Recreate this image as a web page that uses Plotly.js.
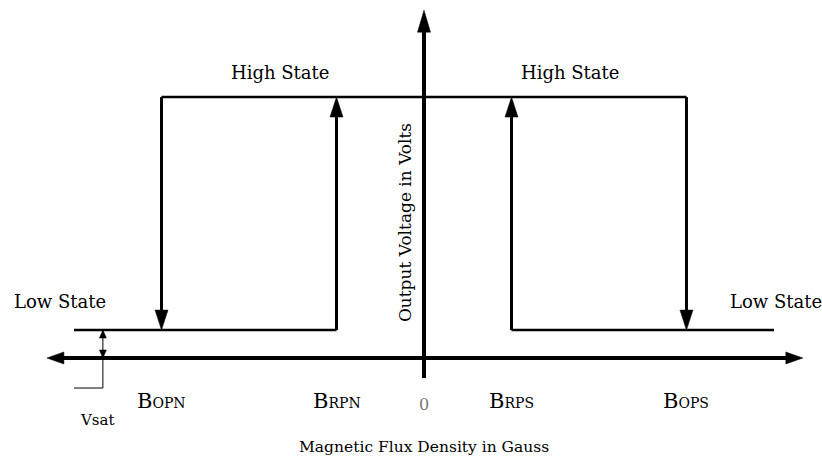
<!DOCTYPE html>
<html>
<head>
<meta charset="utf-8">
<script src="https://cdn.plot.ly/plotly-3.0.1.min.js"></script>
<style>html,body{margin:0;padding:0;background:#fff}#chart{width:822px;height:459px}</style>
</head>
<body>
<div id="chart"></div>
<script>
// ---- data ----
const thresholdNames = ["OPN", "RPN", "RPS", "OPS"];
const thresholdValues = [-3, -1, 1, 3];      // B_OPN, B_RPN, B_RPS, B_OPS (Gauss, schematic units)
const originLabel = "0";
const lowLevel = 0.107;                      // Vsat (Low State)
const highLevel = 1.0;                       // High State
const lowStateExtent = [-4.0, 4.0];
const vsatX = -3.67;

// ---- layout frame ----
const W = 822, H = 459;
const xr = [-4.846, 4.549];
const yr = [-0.387, 1.372];
const pxX = W / (xr[1] - xr[0]);
const pxY = H / (yr[1] - yr[0]);
const [bOPN, bRPN, bRPS, bOPS] = thresholdValues;

const traces = [];
function seg(x, y, w) {
  traces.push({x: x, y: y, mode: 'lines', type: 'scatter', hoverinfo: 'skip',
    line: {color: '#000', width: w}, showlegend: false});
}
function head(x, y, dir, len, half) {
  let xs, ys;
  if (dir === 'up' || dir === 'down') {
    const s = dir === 'up' ? -1 : 1;
    const by = y + s * len / pxY;
    xs = [x, x - half / pxX, x + half / pxX, x];
    ys = [y, by, by, y];
  } else {
    const s = dir === 'right' ? -1 : 1;
    const bx = x + s * len / pxX;
    xs = [x, bx, bx, x];
    ys = [y, y - half / pxY, y + half / pxY, y];
  }
  traces.push({x: xs, y: ys, mode: 'lines', type: 'scatter', fill: 'toself',
    fillcolor: '#000', line: {color: '#000', width: 0.5}, hoverinfo: 'skip', showlegend: false});
}

// axes
const xAxisEnd = [-4.31, 4.33];
const yAxisEnd = [-0.077, 1.333];
seg([xAxisEnd[0] + 14 / pxX, xAxisEnd[1] - 14 / pxX], [0, 0], 4);
head(xAxisEnd[0], 0, 'left', 17, 6);
head(xAxisEnd[1], 0, 'right', 17, 6);
seg([0, 0], [yAxisEnd[0], yAxisEnd[1] - 14 / pxY], 4);
head(0, yAxisEnd[1], 'up', 22, 6.5);

// state lines
seg([lowStateExtent[0], bRPN], [lowLevel, lowLevel], 2.5);
seg([bRPS, lowStateExtent[1]], [lowLevel, lowLevel], 2.5);
seg([bOPN, bOPS], [highLevel, highLevel], 2.5);

// transitions
const hl = 20, hw = 6.5;
seg([bOPN, bOPN], [highLevel, lowLevel + hl / pxY], 3); head(bOPN, lowLevel, 'down', hl, hw);
seg([bRPN, bRPN], [lowLevel, highLevel - hl / pxY], 3); head(bRPN, highLevel, 'up', hl, hw);
seg([bRPS, bRPS], [lowLevel, highLevel - hl / pxY], 3); head(bRPS, highLevel, 'up', hl, hw);
seg([bOPS, bOPS], [highLevel, lowLevel + hl / pxY], 3); head(bOPS, lowLevel, 'down', hl, hw);

// Vsat indicator
seg([vsatX, vsatX], [lowLevel, -0.115], 1);
seg([vsatX, lowStateExtent[0]], [-0.115, -0.115], 1);
head(vsatX, lowLevel, 'up', 8, 3.5);
head(vsatX, 0, 'down', 8, 3.5);

const F = 'DejaVu Serif';
function ann(text, x, y, size, extra) {
  return Object.assign({text: text, x: x, y: y, xref: 'x', yref: 'y', showarrow: false,
    font: {family: F, size: size, color: '#000'}, xanchor: 'center', yanchor: 'middle'}, extra || {});
}
const annotations = [
  ann('High State', -1.65, 1.096, 18),
  ann('High State', 1.67, 1.096, 18),
  ann('Low State', -4.16, 0.215, 18),
  ann('Low State', 4.02, 0.215, 18),
  ann('Output Voltage in Volts', -0.217, 0.517, 17, {textangle: -90}),
  ann(originLabel, 0, -0.18, 16, {font: {family: F, size: 16, color: '#777'}}),
  ann('Vsat', -3.73, -0.238, 15),
  ann('Magnetic Flux Density in Gauss', 0, -0.341, 15.5)
];
thresholdNames.forEach((n, i) => {
  annotations.push(ann('B<span style="font-size:14px">' + n + '</span>', thresholdValues[i], -0.163, 21));
});

Plotly.newPlot('chart', traces, {
  width: W, height: H,
  margin: {l: 0, r: 0, t: 0, b: 0},
  paper_bgcolor: '#fff', plot_bgcolor: '#fff',
  xaxis: {range: xr, visible: false, fixedrange: true},
  yaxis: {range: yr, visible: false, fixedrange: true},
  annotations: annotations,
  showlegend: false
}, {displayModeBar: false, staticPlot: true});
</script>
</body>
</html>
